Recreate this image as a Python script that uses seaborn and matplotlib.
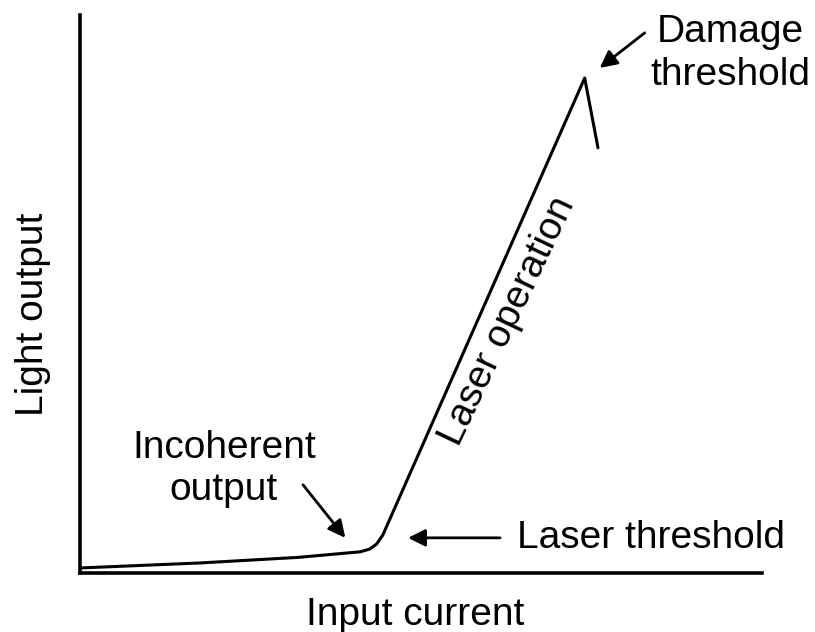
import matplotlib
matplotlib.use("Agg")
import matplotlib.pyplot as plt
import seaborn as sns
import pandas as pd

# Light output vs. input current of a laser diode (arbitrary units, 0-100)
current = [0.0, 17.6, 32.0, 41.1, 42.5, 43.5, 44.4, 74.0, 75.95]
light = [0.9, 1.8, 2.8, 3.8, 4.3, 5.2, 6.8, 88.7, 76.2]

curve = pd.DataFrame({"current": current, "light": light})

sns.set_theme(style="white")
plt.rcParams["font.family"] = ["Liberation Sans", "DejaVu Sans"]
plt.rcParams["text.color"] = "black"

FS = 28
INK = "black"

fig = plt.figure(figsize=(8.15, 6.32), dpi=100)
ax = fig.add_axes([80 / 815, (632 - 573) / 632, (762 - 80) / 815, (573 - 15) / 632])

sns.lineplot(data=curve, x="current", y="light", sort=False, color=INK,
             linewidth=2.2, ax=ax)

ax.set_xlim(0, 100)
ax.set_ylim(0, 100)
ax.set_xticks([])
ax.set_yticks([])
ax.set_xlabel("")
ax.set_ylabel("")
for side in ("top", "right"):
    ax.spines[side].set_visible(False)
for side in ("left", "bottom"):
    ax.spines[side].set_color(INK)
    ax.spines[side].set_linewidth(2.6)

# Axis titles
ax.text(49.1, -9.3, "Input current", fontsize=FS, ha="center", va="baseline",
        color=INK)
ax.text(-6.9, 46.4, "Light output", fontsize=FS, ha="center", va="center",
        rotation=90, color=INK)

arrow = dict(arrowstyle="-|>", color=INK, lw=2.0, mutation_scale=26,
             shrinkA=0, shrinkB=0)

# Incoherent (spontaneous) emission region
ax.text(21.1, 20.6, "Incoherent", fontsize=FS, ha="center", va="baseline", color=INK)
ax.text(21.1, 13.1, "output", fontsize=FS, ha="center", va="baseline", color=INK)
ax.annotate("", xy=(38.9, 6.3), xytext=(32.7, 15.8), arrowprops=arrow)

# Threshold current
ax.text(64.1, 4.5, "Laser threshold", fontsize=FS, ha="left", va="baseline", color=INK)
ax.annotate("", xy=(48.1, 6.3), xytext=(61.6, 6.3), arrowprops=arrow)

# Stimulated emission slope
ax.text(64.0, 44.4, "Laser operation", fontsize=FS, ha="center", va="baseline",
        rotation=64.6, rotation_mode="anchor", color=INK)

# Catastrophic optical damage
ax.text(95.3, 95.2, "Damage", fontsize=FS, ha="center", va="baseline", color=INK)
ax.text(95.3, 87.5, "threshold", fontsize=FS, ha="center", va="baseline", color=INK)
ax.annotate("", xy=(76.2, 90.5), xytext=(82.8, 96.8), arrowprops=arrow)

fig.savefig("out.png", dpi=100, facecolor="white")
